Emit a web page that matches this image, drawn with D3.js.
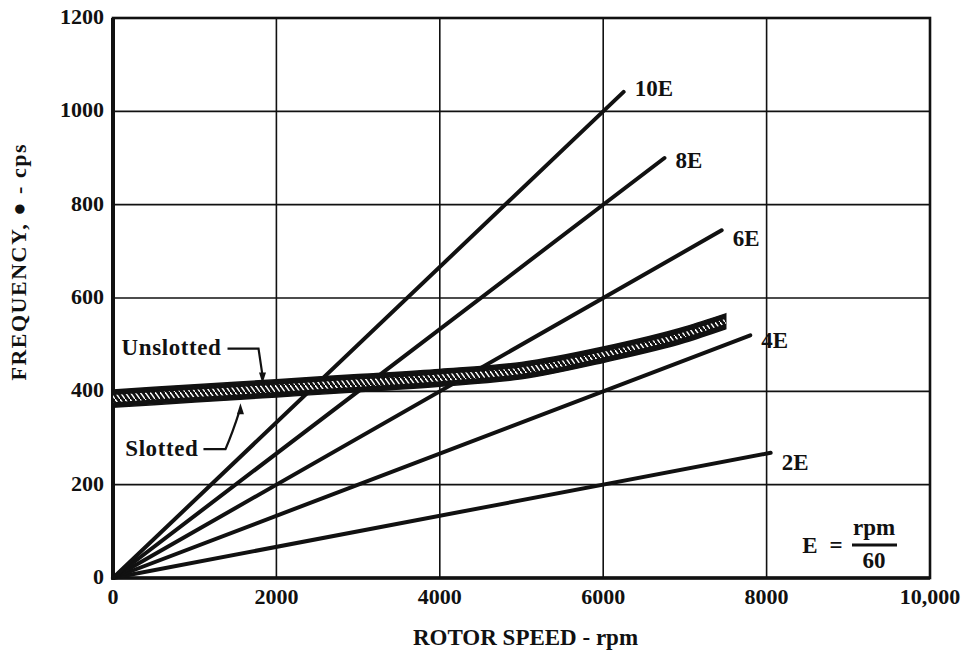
<!DOCTYPE html>
<html>
<head>
<meta charset="utf-8">
<script src="https://cdn.jsdelivr.net/npm/d3@7"></script>
<style>
  body { margin: 0; background: #fff; }
  text { font-family: "Liberation Serif", "DejaVu Serif", serif; font-weight: bold; fill: #111; }
</style>
</head>
<body>
<div id="chart"></div>
<script>
// ---- data ----
const xTicks = [0, 2000, 4000, 6000, 8000, 10000]
const yTicks = [0, 200, 400, 600, 800, 1000, 1200]

// engine orders: frequency = order * rpm / 60, drawn from 0 rpm to endRpm
const orders = [2, 4, 6, 8, 10]
const orderEndRpm = [8050, 7800, 7450, 6750, 6250]

// blade frequency band
const bandRpm =       [0,   1000, 2000, 3000, 4000, 5000, 6000, 7000, 7500]
const unslottedFreq = [403, 414,  425,  436,  447,  462,  495,  538,  566]
const slottedFreq =   [366, 377,  388,  399,  411,  427,  462,  505,  534]

const width = 969
const height = 656
const margin = ({top: 18, right: 39, bottom: 78, left: 113})

const svg = d3.select("#chart").append("svg")
  .attr("width", width)
  .attr("height", height);

const x = d3.scaleLinear()
  .domain([0, 10000])
  .range([margin.left, width - margin.right])

const y = d3.scaleLinear()
  .domain([0, 1200])
  .range([height - margin.bottom, margin.top])

// hatch pattern for the band
const defs = svg.append("defs")
const pat = defs.append("pattern")
  .attr("id", "hatch")
  .attr("patternUnits", "userSpaceOnUse")
  .attr("width", 5)
  .attr("height", 7)
pat.append("rect").attr("width", 5).attr("height", 7).attr("fill", "#111")
pat.append("line")
  .attr("x1", 0).attr("y1", 0).attr("x2", 5).attr("y2", 7)
  .attr("stroke", "#fff").attr("stroke-width", 1.4)

// grid
svg.append("g")
  .selectAll("line")
  .data(xTicks.slice(1, -1))
  .join("line")
  .attr("x1", d => x(d)).attr("x2", d => x(d))
  .attr("y1", y(0)).attr("y2", y(1200))
  .attr("stroke", "#111").attr("stroke-width", 1.6)

svg.append("g")
  .selectAll("line")
  .data(yTicks.slice(1, -1))
  .join("line")
  .attr("x1", x(0)).attr("x2", x(10000))
  .attr("y1", d => y(d)).attr("y2", d => y(d))
  .attr("stroke", "#111").attr("stroke-width", 1.6)

// frame
svg.append("rect")
  .attr("x", x(0)).attr("y", y(1200))
  .attr("width", x(10000) - x(0)).attr("height", y(0) - y(1200))
  .attr("fill", "none").attr("stroke", "#111").attr("stroke-width", 2.6)
svg.append("line")
  .attr("x1", x(0)).attr("x2", x(0)).attr("y1", y(1200)).attr("y2", y(0))
  .attr("stroke", "#111").attr("stroke-width", 4)
svg.append("line")
  .attr("x1", x(0)).attr("x2", x(10000)).attr("y1", y(0)).attr("y2", y(0))
  .attr("stroke", "#111").attr("stroke-width", 3.6)

// axis tick labels
svg.append("g")
  .selectAll("text")
  .data(xTicks)
  .join("text")
  .attr("x", d => x(d))
  .attr("y", y(0) + 26)
  .attr("text-anchor", "middle")
  .attr("font-size", 22)
  .text(d => d === 10000 ? "10,000" : d)

svg.append("g")
  .selectAll("text")
  .data(yTicks)
  .join("text")
  .attr("x", x(0) - 9)
  .attr("y", d => y(d) + 6)
  .attr("text-anchor", "end")
  .attr("font-size", 22)
  .text(d => d)

// axis titles
svg.append("text")
  .attr("x", (x(0) + x(10000)) / 2 + 4)
  .attr("y", 645)
  .attr("text-anchor", "middle")
  .attr("font-size", 23)
  .text("ROTOR SPEED - rpm")

svg.append("text")
  .attr("transform", "translate(26, 143) rotate(-90)")
  .attr("text-anchor", "end")
  .attr("font-size", 22)
  .attr("letter-spacing", 1.5)
  .text("FREQUENCY, ● - cps")

// band between slotted and unslotted
const band = bandRpm.map((r, i) => ({rpm: r, hi: unslottedFreq[i], lo: slottedFreq[i]}))

const bandArea = d3.area()
  .curve(d3.curveMonotoneX)
  .x(d => x(d.rpm))
  .y0(d => y(d.lo))
  .y1(d => y(d.hi))

const innerArea = d3.area()
  .curve(d3.curveMonotoneX)
  .x(d => x(d.rpm))
  .y0(d => y(d.lo) - 5)
  .y1(d => y(d.hi) + 5)

// order lines
const orderLine = d3.line().x(d => x(d.rpm)).y(d => y(d.f))
const orderData = orders.map((n, i) => ({
  n: n,
  pts: [{rpm: 0, f: 0}, {rpm: orderEndRpm[i], f: n * orderEndRpm[i] / 60}]
}))

svg.append("g")
  .selectAll("path")
  .data(orderData)
  .join("path")
  .attr("d", d => orderLine(d.pts))
  .attr("fill", "none")
  .attr("stroke", "#111")
  .attr("stroke-width", 4)
  .attr("stroke-linecap", "round")

svg.append("path")
  .datum(band)
  .attr("d", bandArea)
  .attr("fill", "#111")
  .attr("stroke", "#111")
  .attr("stroke-width", 1.5)

svg.append("path")
  .datum(band)
  .attr("d", innerArea)
  .attr("fill", "url(#hatch)")

// order labels
const labelDy = {2: 17, 4: 13, 6: 16, 8: 10, 10: 4}
svg.append("g")
  .selectAll("text")
  .data(orderData)
  .join("text")
  .attr("x", d => x(d.pts[1].rpm) + 11)
  .attr("y", d => y(d.pts[1].f) + labelDy[d.n])
  .attr("font-size", 23)
  .text(d => d.n + "E")

// annotations for band edges
const unslottedAt = 1830
const slottedAt = 1560
const interp = (arr, r) => d3.scaleLinear().domain(bandRpm).range(arr)(r)

const arrow = (tx, ty, dir) => {
  // small filled arrow head with tip at (tx, ty), dir = 1 pointing down, -1 up
  return `M${tx},${ty} L${tx - 3.5},${ty - dir * 11} L${tx + 3.5},${ty - dir * 11} Z`
}

const ux = x(unslottedAt), uy = y(interp(unslottedFreq, unslottedAt)) + 3
svg.append("path")
  .attr("d", `M${ux - 35},${uy - 35} L${ux - 4},${uy - 35} L${ux},${uy - 8}`)
  .attr("fill", "none").attr("stroke", "#111").attr("stroke-width", 2.2)
svg.append("path").attr("d", arrow(ux, uy, 1)).attr("fill", "#111")
svg.append("text")
  .attr("x", ux - 41).attr("y", uy - 29)
  .attr("text-anchor", "end")
  .attr("font-size", 23)
  .attr("letter-spacing", 0.6)
  .text("Unslotted")

const sx = x(slottedAt), sy = y(interp(slottedFreq, slottedAt)) + 4
svg.append("path")
  .attr("d", `M${sx - 37},${sy + 46} L${sx - 15},${sy + 46} Q${sx - 8},${sy + 30} ${sx - 1},${sy + 8}`)
  .attr("fill", "none").attr("stroke", "#111").attr("stroke-width", 2.2)
svg.append("path").attr("d", arrow(sx, sy, -1)).attr("fill", "#111")
svg.append("text")
  .attr("x", sx - 42).attr("y", sy + 53)
  .attr("text-anchor", "end")
  .attr("font-size", 23)
  .attr("letter-spacing", 0.6)
  .text("Slotted")

// E = rpm / 60
const eg = svg.append("g").attr("transform", "translate(874, 545)")
eg.append("text").attr("x", -64).attr("y", 8).attr("text-anchor", "middle").attr("font-size", 23).text("E")
eg.append("text").attr("x", -38).attr("y", 8).attr("text-anchor", "middle").attr("font-size", 23).text("=")
eg.append("text").attr("x", 0).attr("y", -10).attr("text-anchor", "middle").attr("font-size", 23).text("rpm")
eg.append("line").attr("x1", -22).attr("x2", 23).attr("y1", 0).attr("y2", 0).attr("stroke", "#111").attr("stroke-width", 3)
eg.append("text").attr("x", 0).attr("y", 23).attr("text-anchor", "middle").attr("font-size", 23).text("60")
</script>
</body>
</html>
